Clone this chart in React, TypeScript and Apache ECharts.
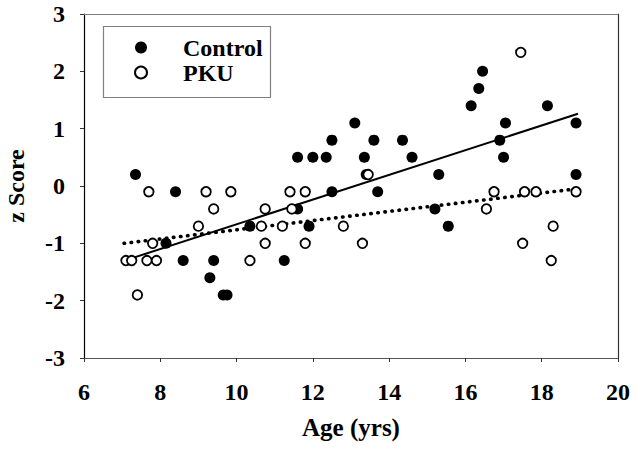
import React, { useEffect, useRef } from "react";
import * as echarts from "echarts";

const controlPoints: [number, number][] = [
  [7.35, 0.2], [8.15, -1.0], [8.4, -0.1], [8.6, -1.3], [9.3, -1.6], [9.4, -1.3],
  [9.65, -1.9], [9.75, -1.9], [10.35, -0.7], [11.25, -1.3], [11.6, -0.4], [11.6, 0.5],
  [11.9, -0.7], [12.0, 0.5], [12.35, 0.5], [12.5, 0.8], [12.5, -0.1], [13.1, 1.1],
  [13.35, 0.5], [13.4, 0.2], [13.6, 0.8], [13.7, -0.1], [14.35, 0.8], [14.6, 0.5],
  [15.2, -0.4], [15.3, 0.2], [15.55, -0.7], [16.15, 1.4], [16.35, 1.7], [16.45, 2.0],
  [16.9, 0.8], [17.0, 0.5], [17.05, 1.1], [18.15, 1.4], [18.9, 1.1], [18.9, 0.2],
];

const pkuPoints: [number, number][] = [
  [7.1, -1.3], [7.25, -1.3], [7.4, -1.9], [7.65, -1.3], [7.7, -0.1], [7.8, -1.0],
  [7.9, -1.3], [9.0, -0.7], [9.2, -0.1], [9.4, -0.4], [9.85, -0.1], [10.35, -1.3],
  [10.65, -0.7], [10.75, -0.4], [10.75, -1.0], [11.2, -0.7], [11.4, -0.1], [11.45, -0.4],
  [11.8, -0.1], [11.8, -1.0], [12.8, -0.7], [13.3, -1.0], [13.45, 0.2], [16.55, -0.4],
  [16.75, -0.1], [17.45, 2.33], [17.5, -1.0], [17.55, -0.1], [17.85, -0.1], [18.25, -1.3],
  [18.3, -0.7], [18.9, -0.1],
];

const controlFit: [number, number][] = [[7.3, -1.25], [18.95, 1.26]];
const pkuFit: [number, number][] = [[7.05, -1.0], [18.9, -0.05]];

const xTicks = { min: 6, max: 20, interval: 2 };
const yTicks = { min: -3, max: 3, interval: 1 };

const FONT = "Liberation Serif";

export default function App() {
  const ref = useRef<HTMLDivElement>(null);
  useEffect(() => {
    if (!ref.current) return;
    const chart = echarts.init(ref.current, null, { renderer: "svg" });
    const tickRich = { b: { fontFamily: FONT, fontWeight: "bold", fontSize: 24, color: "#000" } };
    chart.setOption({
      animation: false,
      backgroundColor: "#fff",
      textStyle: { fontFamily: FONT, fontWeight: "bold", color: "#000" },
      grid: { left: 84, right: 19, top: 14, bottom: 91, containLabel: false, outerBoundsMode: "none" },
      legend: {
        orient: "vertical",
        left: 134,
        top: 35,
        padding: 0,
        itemWidth: 12,
        itemHeight: 12,
        itemGap: 0,
        selectedMode: false,
        textStyle: { fontFamily: FONT, fontWeight: "bold", fontSize: 24, color: "#000", lineHeight: 25, padding: [0, 0, 0, 31] },
        data: ["Control", "PKU"],
      },
      graphic: [
        {
          type: "rect",
          shape: { x: 103.5, y: 26.5, width: 167, height: 71 },
          style: { fill: "none", stroke: "#808080", lineWidth: 1.2 },
          z: 5,
        },
      ],
      xAxis: [
        {
          type: "value",
          ...xTicks,
          position: "bottom",
          axisLine: { show: true, onZero: false, lineStyle: { color: "#555", width: 1.2 } },
          axisTick: { show: true, inside: false, length: 4, lineStyle: { color: "#333" } },
          axisLabel: {
            show: true,
            margin: 22,
            formatter: (v: number) => `{b|${v}}`,
            rich: tickRich,
          },
          splitLine: { show: false },
          name: "Age (yrs)",
          nameLocation: "middle",
          nameGap: 57,
          nameTextStyle: { fontFamily: FONT, fontWeight: "bold", fontSize: 25, color: "#000" },
        },
        {
          type: "value",
          ...xTicks,
          position: "top",
          axisLine: { show: true, onZero: false, lineStyle: { color: "#808080", width: 1.2 } },
          axisTick: { show: false },
          axisLabel: { show: false },
          splitLine: { show: false },
        },
      ],
      yAxis: [
        {
          type: "value",
          ...yTicks,
          position: "left",
          axisLine: { show: true, onZero: false, lineStyle: { color: "#000", width: 1.2 } },
          axisTick: { show: true, inside: false, length: 4, lineStyle: { color: "#333" } },
          axisLabel: {
            show: true,
            margin: 19,
            formatter: (v: number) => `{b|${v}}`,
            rich: tickRich,
          },
          splitLine: { show: false },
          name: "z Score",
          nameLocation: "middle",
          nameGap: 56,
          nameRotate: 90,
          nameTextStyle: { fontFamily: FONT, fontWeight: "bold", fontSize: 24, color: "#000" },
        },
        {
          type: "value",
          ...yTicks,
          position: "right",
          axisLine: { show: true, onZero: false, lineStyle: { color: "#333", width: 1.2 } },
          axisTick: { show: false },
          axisLabel: { show: false },
          splitLine: { show: false },
        },
      ],
      series: [
        {
          name: "ControlFit",
          type: "line",
          data: controlFit,
          symbol: "none",
          lineStyle: { color: "#000", width: 2 },
          z: 1,
          silent: true,
        },
        {
          name: "PKUFit",
          type: "line",
          data: pkuFit,
          symbol: "none",
          lineStyle: { color: "#000", width: 3.6, type: [0.5, 6.6], cap: "round" },
          z: 1,
          silent: true,
        },
        {
          name: "Control",
          type: "scatter",
          data: controlPoints,
          symbol: "circle",
          symbolSize: 11,
          itemStyle: { color: "#000", opacity: 1 },
          z: 3,
        },
        {
          name: "PKU",
          type: "scatter",
          data: pkuPoints,
          symbol: "circle",
          symbolSize: 9.5,
          itemStyle: { color: "#fff", borderColor: "#000", borderWidth: 1.8, opacity: 1 },
          z: 4,
        },
      ],
    });
    return () => chart.dispose();
  }, []);
  return <div ref={ref} style={{ width: 637, height: 449, position: "absolute", left: 0, top: 0 }} />;
}
